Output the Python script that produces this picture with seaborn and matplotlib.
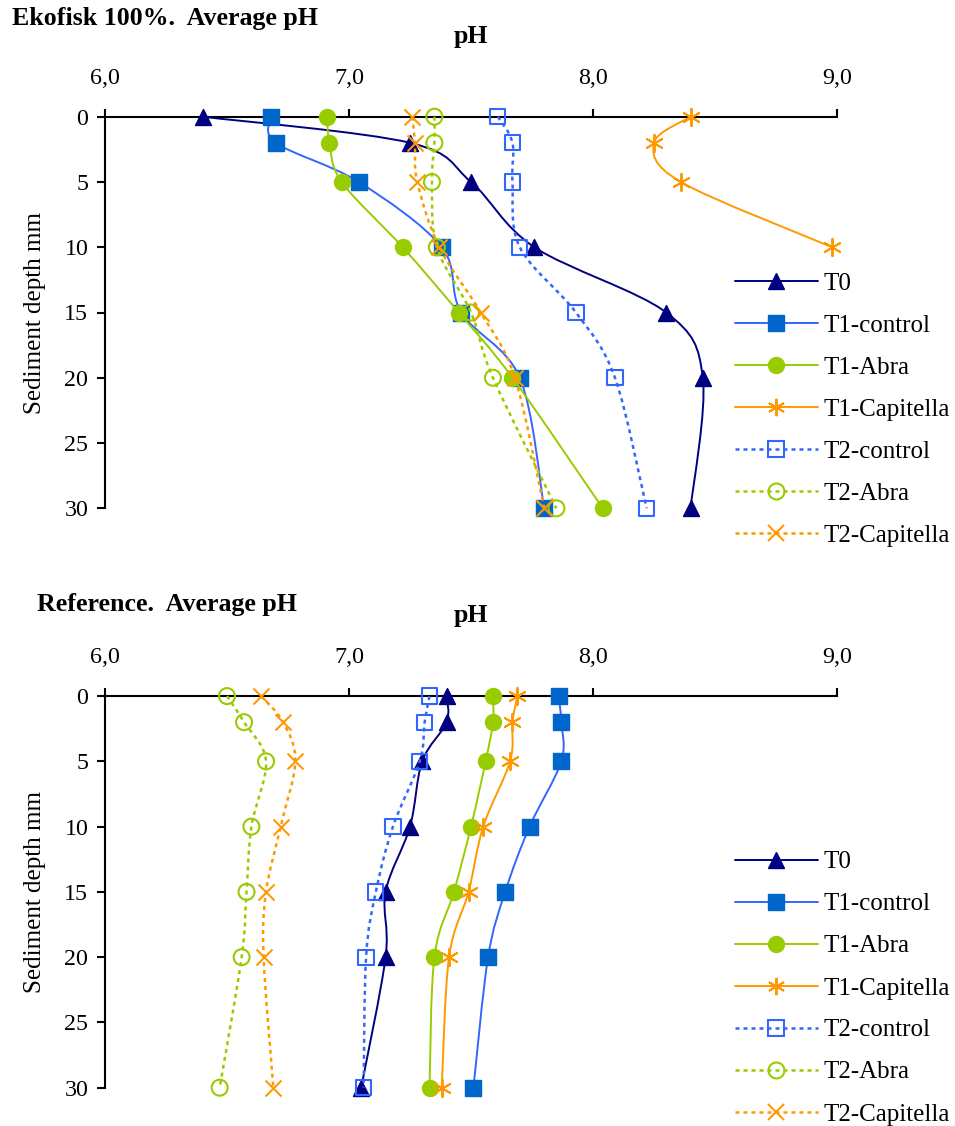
import numpy as np
import matplotlib
matplotlib.use("Agg")
import matplotlib.pyplot as plt
from matplotlib.path import Path
from matplotlib.patches import PathPatch
from matplotlib.lines import Line2D
import seaborn as sns

# Sediment depths (mm) at which pH was measured
depth = [0, 2, 5, 10, 15, 20, 30]

series_names = ["T0", "T1-control", "T1-Abra", "T1-Capitella",
                "T2-control", "T2-Abra", "T2-Capitella"]

# Ekofisk 100% sediment, average pH per depth
ek_T0 = [6.40, 7.25, 7.50, 7.76, 8.30, 8.45, 8.40]
ek_T1_control = [6.68, 6.70, 7.04, 7.38, 7.46, 7.70, 7.80]
ek_T1_abra = [6.91, 6.92, 6.97, 7.22, 7.45, 7.67, 8.04]
ek_T1_capitella = [8.40, 8.25, 8.36, 8.98, np.nan, np.nan, np.nan]
ek_T2_control = [7.61, 7.67, 7.67, 7.70, 7.93, 8.09, 8.22]
ek_T2_abra = [7.35, 7.35, 7.34, 7.36, 7.50, 7.59, 7.85]
ek_T2_capitella = [7.26, 7.27, 7.28, 7.37, 7.54, 7.68, 7.80]

# Reference sediment, average pH per depth
ref_T0 = [7.40, 7.40, 7.30, 7.25, 7.15, 7.15, 7.05]
ref_T1_control = [7.86, 7.87, 7.87, 7.74, 7.64, 7.57, 7.51]
ref_T1_abra = [7.59, 7.59, 7.56, 7.50, 7.43, 7.35, 7.33]
ref_T1_capitella = [7.69, 7.67, 7.66, 7.55, 7.49, 7.41, 7.38]
ref_T2_control = [7.33, 7.31, 7.29, 7.18, 7.11, 7.07, 7.06]
ref_T2_abra = [6.50, 6.57, 6.66, 6.60, 6.58, 6.56, 6.47]
ref_T2_capitella = [6.64, 6.73, 6.78, 6.72, 6.66, 6.65, 6.69]

ph_ticks = [6.0, 7.0, 8.0, 9.0]
ph_tick_labels = ["6,0", "7,0", "8,0", "9,0"]
depth_ticks = [0, 5, 10, 15, 20, 25, 30]

NAVY = "#000080"
BLUE_DARK = "#0066CC"
BLUE = "#3366FF"
GREEN = "#99CC00"
ORANGE = "#FF9900"
ASTERISK = (6, 2, 0)
DOT = (0, (1.6, 1.6))

# style per series: line colour, line style, marker, marker face, marker edge, marker size
styles = {
    "T0": dict(lc=NAVY, ls="-", m="^", fc=NAVY, ec=NAVY, ms=11.5, mew=1.0),
    "T1-control": dict(lc=BLUE, ls="-", m="s", fc=BLUE_DARK, ec=BLUE_DARK, ms=11.5, mew=1.0),
    "T1-Abra": dict(lc=GREEN, ls="-", m="o", fc=GREEN, ec=GREEN, ms=11.5, mew=1.0),
    "T1-Capitella": dict(lc=ORANGE, ls="-", m=ASTERISK, fc=ORANGE, ec=ORANGE, ms=12.5, mew=1.4),
    "T2-control": dict(lc=BLUE, ls=DOT, m="s", fc="none", ec=BLUE, ms=11.0, mew=1.5),
    "T2-Abra": dict(lc=GREEN, ls=DOT, m="o", fc="none", ec=GREEN, ms=11.5, mew=1.5),
    "T2-Capitella": dict(lc=ORANGE, ls=DOT, m="x", fc=ORANGE, ec=ORANGE, ms=11.5, mew=1.5),
}

sns.set_theme(style="white")
plt.rcParams["font.family"] = ["Liberation Serif", "DejaVu Serif"]
plt.rcParams["mathtext.default"] = "regular"
for key in ("text.color", "axes.labelcolor", "xtick.color", "ytick.color"):
    plt.rcParams[key] = "black"

W, H = 955, 1126
fig = plt.figure(figsize=(W / 100, H / 100), dpi=100)


def smooth_curve(xs, ys):
    """Catmull-Rom style Bezier path through the measured points."""
    pts = np.array([(x, y) for x, y in zip(xs, ys) if not np.isnan(x)])
    n = len(pts)
    verts = [pts[0]]
    codes = [Path.MOVETO]
    for i in range(n - 1):
        p0 = pts[i - 1] if i > 0 else pts[i]
        p1 = pts[i]
        p2 = pts[i + 1]
        p3 = pts[i + 2] if i + 2 < n else pts[i + 1]
        c1 = p1 + (p2 - p0) / 6.0
        c2 = p2 - (p3 - p1) / 6.0
        verts += [c1, c2, p2]
        codes += [Path.CURVE4] * 3
    return Path(verts, codes)


def draw_panel(ax, data):
    for k, name in enumerate(series_names):
        st = styles[name]
        ph = np.array(data[k], dtype=float)
        ok = ~np.isnan(ph)
        z = 3 + k
        lw = 1.8 if st["ls"] != "-" else 1.4
        ax.add_patch(PathPatch(smooth_curve(ph, depth), fill=False,
                               edgecolor=st["lc"], linewidth=lw,
                               linestyle=st["ls"], zorder=z, clip_on=False))
        sns.scatterplot(x=ph[ok], y=np.array(depth)[ok], ax=ax,
                        marker=st["m"], s=st["ms"] ** 2,
                        facecolor=st["fc"], edgecolor=st["ec"],
                        color=st["ec"], linewidth=st["mew"],
                        zorder=z + 0.5, clip_on=False, legend=False)

    ax.set_xlim(6.0, 9.0)
    ax.set_ylim(30, 0)
    ax.xaxis.tick_top()
    ax.xaxis.set_label_position("top")
    ax.set_xticks(ph_ticks)
    ax.set_xticklabels(ph_tick_labels)
    ax.set_yticks(depth_ticks)
    ax.set_xlabel("pH", fontsize=18.5, fontweight="bold", labelpad=18)
    ax.set_ylabel("Sediment depth mm", fontsize=18, labelpad=13)
    for side in ("right", "bottom"):
        ax.spines[side].set_visible(False)
    for side in ("top", "left"):
        ax.spines[side].set_visible(True)
        ax.spines[side].set_color("black")
        ax.spines[side].set_linewidth(1.5)
    ax.tick_params(axis="x", which="major", top=True, bottom=False,
                   direction="out", length=6, width=1.5, colors="black",
                   labelsize=17.3, pad=14)
    ax.tick_params(axis="y", which="major", left=True, right=False,
                   direction="out", length=6, width=1.5, colors="black",
                   labelsize=17.3, pad=6)
    ax.grid(False)
    ax.set_facecolor("none")


def legend_handles():
    hs = []
    for name in series_names:
        st = styles[name]
        lw = 1.8 if st["ls"] != "-" else 1.4
        hs.append(Line2D([], [], color=st["lc"], linestyle=st["ls"], linewidth=lw,
                         marker=st["m"], markersize=st["ms"],
                         markerfacecolor=st["fc"], markeredgecolor=st["ec"],
                         markeredgewidth=st["mew"]))
    return hs


left = 105 / W
width = (837 - 105) / W
height = (508.3 - 116.7) / H

ax1 = fig.add_axes([left, 1 - 508.3 / H, width, height])
draw_panel(ax1, [ek_T0, ek_T1_control, ek_T1_abra, ek_T1_capitella,
                 ek_T2_control, ek_T2_abra, ek_T2_capitella])

ax2 = fig.add_axes([left, 1 - 1087.7 / H, width, height])
draw_panel(ax2, [ref_T0, ref_T1_control, ref_T1_abra, ref_T1_capitella,
                 ref_T2_control, ref_T2_abra, ref_T2_capitella])

fig.text(12 / W, 1 - 19 / H, "Ekofisk 100%.  Average pH", fontsize=18.6,
         fontweight="bold", ha="left", va="center")
fig.text(37 / W, 1 - 605 / H, "Reference.  Average pH", fontsize=18.6,
         fontweight="bold", ha="left", va="center")

for top_px in (272, 851):
    fig.legend(legend_handles(), series_names, loc="upper left",
               bbox_to_anchor=(735 / W, 1 - top_px / H),
               bbox_transform=fig.transFigure, frameon=False,
               fontsize=18, handlelength=3.3, handletextpad=0.25,
               labelspacing=0.78, borderpad=0, borderaxespad=0)

fig.savefig("out.png", dpi=100, facecolor="white")
